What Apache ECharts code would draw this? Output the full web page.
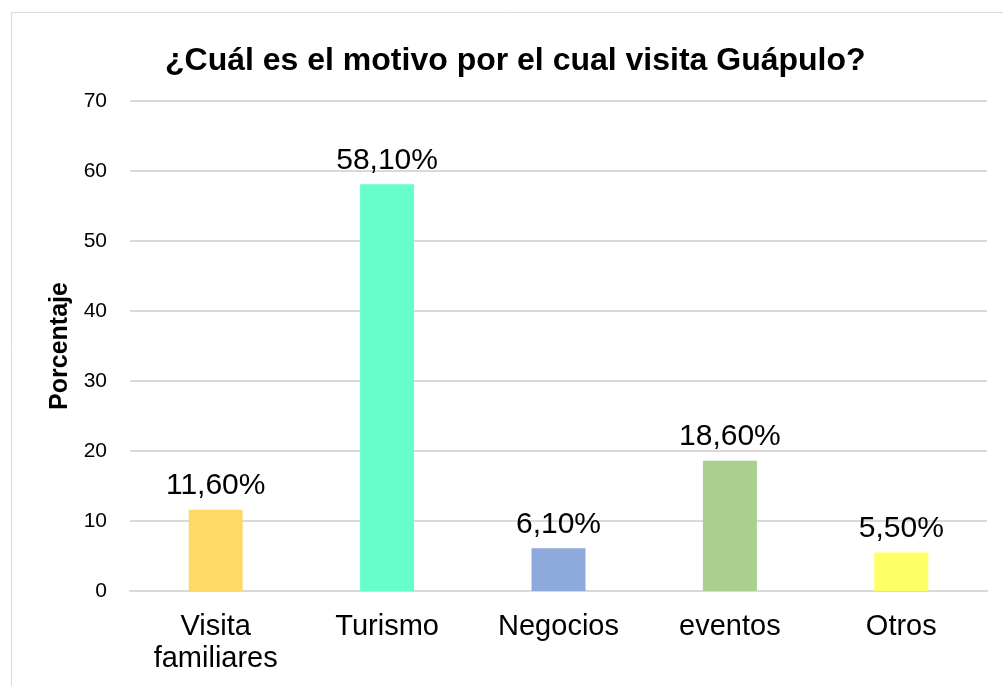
<!DOCTYPE html>
<html>
<head>
<meta charset="utf-8">
<script src="https://cdn.jsdelivr.net/npm/echarts@6/dist/echarts.min.js"></script>
<style>
  html, body { margin: 0; padding: 0; background: #fff; }
  #container { width: 1003px; height: 686px; }
</style>
</head>
<body>
<div id="container"></div>
<script>
// datos del gráfico
var categorias = ['Visita\nfamiliares', 'Turismo', 'Negocios', 'eventos', 'Otros'];
var porcentajes = [11.6, 58.1, 6.1, 18.6, 5.5];
var etiquetas = ['11,60%', '58,10%', '6,10%', '18,60%', '5,50%'];
var colores = ['#FFD966', '#66FFCC', '#8EA9DB', '#A9D08E', '#FFFF66'];
var ticksY = [0, 10, 20, 30, 40, 50, 60, 70];

var myChart = echarts.init(document.getElementById('container'));

var datos = porcentajes.map(function (v, i) {
    return {value: v, itemStyle: {color: colores[i]}};
});

var options = {
    animation: false,
    textStyle: {fontFamily: 'Liberation Sans, Arial, sans-serif'},
    graphic: [{
        type: 'rect',
        shape: {x: 11.5, y: 12.5, width: 1100, height: 800},
        style: {fill: 'none', stroke: '#d9d9d9', lineWidth: 1}
    }],
    title: {
        text: '¿Cuál es el motivo por el cual visita Guápulo?',
        left: 160,
        top: 40,
        textStyle: {fontSize: 32, fontWeight: 'bold', color: '#000'}
    },
    grid: {left: 130, right: 16, top: 101, bottom: 95},
    xAxis: {
        type: 'category',
        data: categorias,
        axisTick: {show: false},
        axisLine: {show: true, lineStyle: {color: '#d9d9d9', width: 2}},
        axisLabel: {
            fontSize: 29, color: '#000', margin: 20, lineHeight: 32,
            interval: 0
        }
    },
    yAxis: {
        type: 'value',
        min: ticksY[0],
        max: ticksY[ticksY.length - 1],
        interval: 10,
        name: 'Porcentaje',
        nameLocation: 'middle',
        nameGap: 56,
        nameTextStyle: {fontSize: 25, fontWeight: 'bold', color: '#000'},
        axisLine: {show: false},
        axisTick: {show: false},
        axisLabel: {fontSize: 21, color: '#000', margin: 23},
        splitLine: {lineStyle: {color: '#d9d9d9', width: 2}}
    },
    series: [{
        type: 'bar',
        barWidth: 54,
        data: datos,
        label: {
            show: true,
            position: 'top',
            distance: 9,
            fontSize: 30,
            color: '#000',
            formatter: function (p) {
                return etiquetas[p.dataIndex];
            }
        }
    }]
};

myChart.setOption(options);
</script>
</body>
</html>
